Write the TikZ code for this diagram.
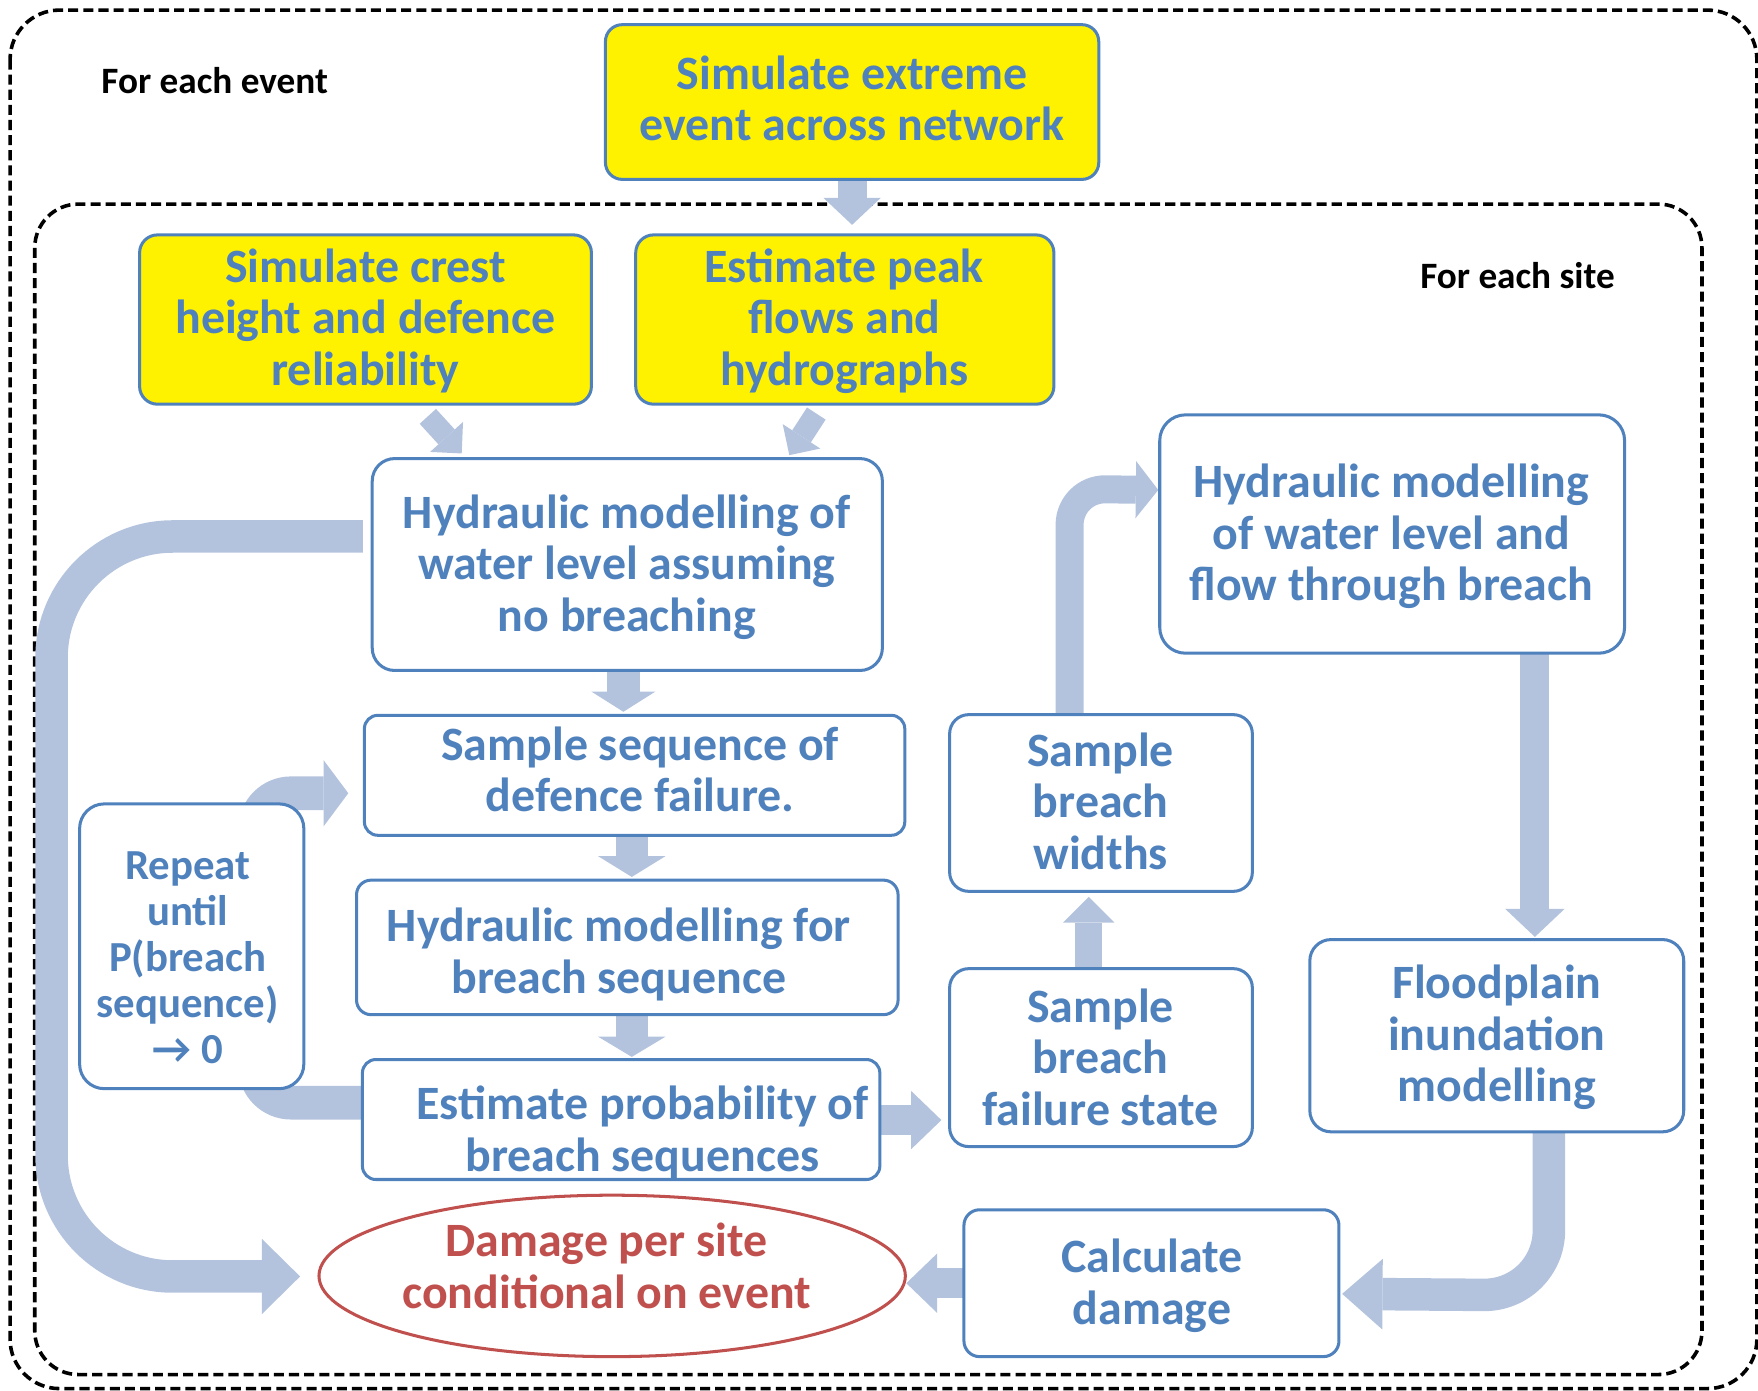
\documentclass[tikz,border=0pt]{standalone}
\usepackage{fontspec}
\setmainfont{Carlito}
\usetikzlibrary{arrows.meta,calc,shapes.geometric}
\definecolor{bblue}{RGB}{79,129,189}
\definecolor{rred}{RGB}{192,80,77}
\definecolor{afill}{RGB}{179,195,221}
\pgfdeclarelayer{bg}
\pgfdeclarelayer{arr}
\pgfsetlayers{bg,arr,main}
\begin{document}
\begin{tikzpicture}[x=1pt,y=-1pt,
  box/.style={draw=bblue,line width=2.7pt,fill=white,inner sep=0pt,rectangle},
  ybox/.style={box,fill=yellow},
  txt/.style={text=bblue,font=\fontsize{42.7}{46}\selectfont\bfseries,align=center,inner sep=0pt},
  rtxt/.style={txt,text=rred},
  stxt/.style={txt,font=\fontsize{38.2}{41}\selectfont\bfseries},
  lbl/.style={text=black,font=\fontsize{33.2}{39}\selectfont\bfseries,inner sep=0pt},
  dashbox/.style={draw=black,line width=3.2pt,dash pattern=on 9pt off 4.5pt},
  fat/.style n args={3}{draw=afill,line width=#1pt,-{Triangle[width=#2pt,length=#3pt,line width=0pt]}}
]
\useasboundingbox (0,0) rectangle (1568,1240);

% dashed frames
\begin{pgfonlayer}{bg}
\draw[dashbox,rounded corners=44pt] (9,9) rectangle (1567,1238.5);
\draw[dashbox,rounded corners=39pt] (31,182) rectangle (1518,1226);
\end{pgfonlayer}

% labels
\node[lbl] (lev) at (191.5,72) {For each event};
\node[lbl] (lsite) at (1353.5,246) {For each site};

% boxes
\node[ybox,rounded corners=15pt,minimum width=440pt,minimum height=138pt] (top) at (760,91) {};
\node[ybox,rounded corners=16pt,minimum width=403pt,minimum height=151pt] (crest) at (326,285) {};
\node[ybox,rounded corners=16pt,minimum width=373pt,minimum height=151pt] (peak) at (753.5,285) {};
\node[box,rounded corners=20pt,minimum width=455pt,minimum height=189pt] (hyd) at (559.5,503.5) {};
\node[box,rounded corners=12pt,minimum width=482pt,minimum height=107pt] (seq) at (566,691.5) {};
\node[box,rounded corners=13pt,minimum width=483pt,minimum height=120pt] (hbs) at (559.5,845) {};
\node[box,rounded corners=12pt,minimum width=461.5pt,minimum height=107pt] (est) at (554,998.5) {};
\node[box,rounded corners=22pt,minimum width=200pt,minimum height=254pt] (rep) at (171,844) {};
\node[draw=rred,line width=2.7pt,fill=white,ellipse,inner sep=0pt,minimum width=523pt,minimum height=144pt] (dmg) at (546,1138) {};
\node[box,rounded corners=14pt,minimum width=334.5pt,minimum height=131pt] (calc) at (1027,1144.5) {};
\node[box,rounded corners=19pt,minimum width=333.5pt,minimum height=171.5pt] (flood) at (1335,923.75) {};
\node[box,rounded corners=23pt,minimum width=414.6pt,minimum height=212.6pt] (hfb) at (1241.7,476.3) {};
\node[box,rounded corners=17pt,minimum width=270pt,minimum height=157.6pt] (sbw) at (982,716.2) {};
\node[box,rounded corners=17pt,minimum width=270pt,minimum height=158.7pt] (sbf) at (982,943.3) {};

% texts
\node[txt] (ttop) at (760,93.5) {\strut Simulate extreme\\\strut event across network};
\node[txt] (tcrest) at (326,288.5) {\strut Simulate crest\\\strut height and defence\\\strut reliability};
\node[txt] (tpeak) at (753,288.5) {\strut Estimate peak\\\strut flows and\\\strut hydrographs};
\node[txt] (thyd) at (559,508) {\strut Hydraulic modelling of\\\strut water level assuming\\\strut no breaching};
\node[txt] (tseq) at (571,692) {\strut Sample sequence of\\\strut defence failure.};
\node[txt] (thbs) at (552,853.5) {\strut Hydraulic modelling for\\\strut breach sequence};
\node[txt] (test) at (573,1012.5) {\strut Estimate probability of\\\strut breach sequences};
\node[stxt] (trep) at (167.5,858) {\strut Repeat\\\strut until\\\strut P(breach\\\strut sequence)\\\strut → 0};
\node[rtxt] (tdmg) at (541,1134.5) {\strut Damage per site\\\strut conditional on event};
\node[txt] (tcalc) at (1027.5,1149) {\strut Calculate\\\strut damage};
\node[txt] (tflood) at (1335,927.5) {\strut Floodplain\\\strut inundation\\\strut modelling};
\node[txt] (thfb) at (1241,480.5) {\strut Hydraulic modelling\\\strut of water level and\\\strut flow through breach};
\node[txt] (tsbw) at (981.7,720.2) {\strut Sample\\\strut breach\\\strut widths};
\node[txt] (tsbf) at (981.7,948.5) {\strut Sample\\\strut breach\\\strut failure state};

% block arrows
\begin{pgfonlayer}{arr}
\draw[fat={26}{51}{24}] ($(top.south)+(0,-4)$) -- ($(top.south |- peak.north)+(0,-7.6)$);
\draw[fat={19.7}{39.7}{20}] ($(crest.south)+(55.6,9.5)$) -- ($(hyd.north)+(-147.7,-3.2)$);
\draw[fat={19.8}{40}{20}] ($(peak.south)+(-25.4,7)$) -- ($(hyd.north)+(144.5,-1.7)$);
\draw[fat={29}{57}{18}] ($(hyd.south)+(-3.5,-1)$) -- ($(hyd.south |- seq.north)+(-3.5,-1.8)$);
\draw[fat={29}{60}{18.5}] ($(seq.south)+(-2.5,-1)$) -- ($(seq.south |- hbs.north)+(-2.5,-1.5)$);
\draw[fat={29}{60}{18}] ($(hbs.south)+(4,-1)$) -- ($(hbs.south |- est.north)+(4,-1)$);
\draw[fat={27}{52}{27}] ($(est.east)+(-1,0.5)$) -- ($(est.east -| sbf.west)+(-6,0.5)$);
\draw[fat={24}{46}{23}] ($(sbf.north)+(-11,1)$) -- ($(sbf.north |- sbw.south)+(-11,3.6)$);
\draw[fat={25}{51}{20},rounded corners=32pt] ($(sbw.north)+(-28,1)$) -- ($(sbw.north)+(-28,-200)$) -- ($(hfb.west)+(0,-39.3)$);
\draw[fat={26}{53}{25}] ($(hfb.south)+(127.3,-1)$) -- ($(hfb.south |- flood.north)+(127.3,-1)$);
\draw[fat={29}{63}{36},rounded corners=58pt] ($(flood.south)+(46.5,-2)$) -- ($(flood.south)+(46.5,144.5)$) -- ($(calc.east)+(1.5,9.5)$);
\draw[fat={27}{53}{27.5}] ($(calc.west)+(1,0)$) -- ($(dmg.east)+(-0.5,6.5)$);
\draw[fat={29}{67}{34},rounded corners=108pt] ($(hyd.west)+(-7,-25)$) -- (46,478.5) -- (46,1138.5) -- ($(dmg.west)+(-15.5,0.5)$);
\draw[fat={30}{59}{22},rounded corners=32pt] ($(est.west)+(6.5,-15)$) -- (227.5,983.5) -- (227.5,707.5) -- ($(seq.west)+(-13,16)$);
\end{pgfonlayer}
\end{tikzpicture}
\end{document}
